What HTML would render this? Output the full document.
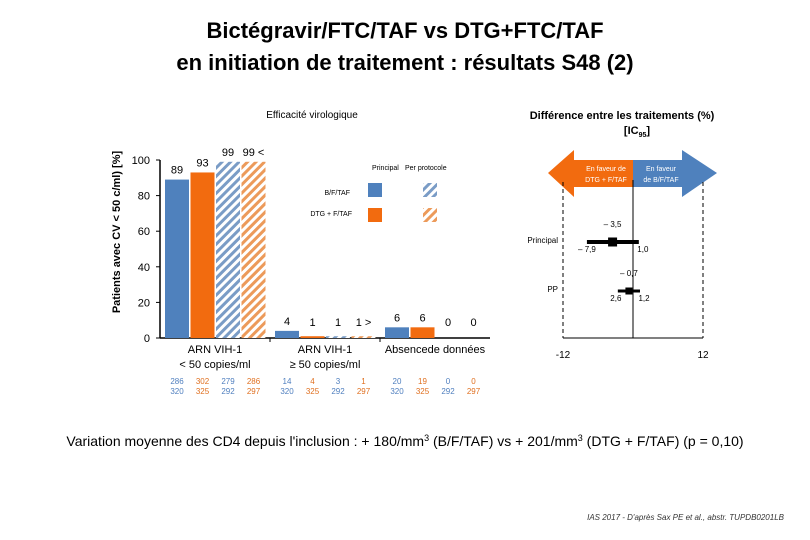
<!DOCTYPE html>
<html><head><meta charset="utf-8"><style>
body{margin:0;background:#fff;font-family:"Liberation Sans",sans-serif}
svg{display:block}
</style></head><body>
<svg id="c" width="810" height="540" xmlns="http://www.w3.org/2000/svg" font-family="Liberation Sans, sans-serif">
<defs>
<pattern id="hb" patternUnits="userSpaceOnUse" width="6" height="6" patternTransform="rotate(45)"><rect width="6" height="6" fill="#fff"/><rect width="3" height="6" fill="#7a9cc6"/></pattern>
<pattern id="ho" patternUnits="userSpaceOnUse" width="6" height="6" patternTransform="rotate(45)"><rect width="6" height="6" fill="#fff"/><rect width="3" height="6" fill="#ec9a5a"/></pattern>
</defs>
<text x="405" y="38" font-size="22" font-weight="bold" text-anchor="middle">Bictégravir/FTC/TAF vs DTG+FTC/TAF</text>
<text x="405" y="70" font-size="22" font-weight="bold" text-anchor="middle">en initiation de traitement : résultats S48 (2)</text>
<text x="312" y="118" font-size="10" text-anchor="middle">Efficacité virologique</text>
<text x="622" y="119" font-size="11" font-weight="bold" text-anchor="middle">Différence entre les traitements (%)</text>
<text x="637" y="134" font-size="11" font-weight="bold" text-anchor="middle">[IC<tspan font-size="7" dy="3">95</tspan><tspan dy="-3">]</tspan></text>
<text transform="translate(120,232) rotate(-90)" font-size="11" font-weight="bold" text-anchor="middle">Patients avec CV &lt; 50 c/ml) [%]</text>
<g id="bars"></g>
<g id="legend" font-size="7">
<text x="372" y="170">Principal</text>
<text x="405" y="170">Per protocole</text>
<text x="350" y="195" text-anchor="end">B/F/TAF</text>
<text x="352" y="216" text-anchor="end">DTG + F/TAF</text>
<rect x="368" y="183" width="14" height="14" fill="#4f81bd"/>
<rect x="423" y="183" width="14" height="14" fill="url(#hb)"/>
<rect x="368" y="208" width="14" height="14" fill="#f26b0f"/>
<rect x="423" y="208" width="14" height="14" fill="url(#ho)"/>
</g>
<g id="forest"></g>
<text x="405" y="446" font-size="14" text-anchor="middle">Variation moyenne des CD4 depuis l'inclusion : + 180/mm<tspan font-size="9" dy="-5">3</tspan><tspan dy="5"> (B/F/TAF) vs + 201/mm</tspan><tspan font-size="9" dy="-5">3</tspan><tspan dy="5"> (DTG + F/TAF) (p = 0,10)</tspan></text>
<text x="784" y="520" font-size="8" font-style="italic" text-anchor="end" fill="#333">IAS 2017 - D'après Sax PE et al., abstr. TUPDB0201LB</text>
</svg>
<script>
const groups=["ARN VIH-1|< 50 copies/ml","ARN VIH-1|≥ 50 copies/ml","Absencede données"];
const values=[[89,93,99,99],[4,1,1,1],[6,6,0,0]];
const valueLabels=[["89","93","99","99 <"],["4","1","1","1 >"],["6","6","0","0"]];
const countsTop=[["286","302","279","286"],["14","4","3","1"],["20","19","0","0"]];
const countsBot=[["320","325","292","297"],["320","325","292","297"],["320","325","292","297"]];
const yTicks=[0,20,40,60,80,100];
const forestLabels=["Principal","PP"];
const forestPoint=[-3.5,-0.7];
const forestLow=[-7.9,-2.6];
const forestHigh=[1.0,1.2];
const forestPointLbl=["– 3,5","– 0,7"];
const forestLowLbl=["– 7,9","2,6"];
const forestHighLbl=["1,0","1,2"];
const NS="http://www.w3.org/2000/svg";
function mk(p,t,a,txt){const e=document.createElementNS(NS,t);for(const k in a)e.setAttribute(k,a[k]);if(txt!=null)e.textContent=txt;p.appendChild(e);return e;}
const ysc=v=>338-v*1.78;
const gx=i=>160+i*110;
const fills=["#4f81bd","#f26b0f","url(#hb)","url(#ho)"];
const cntCol=["#4f7fbf","#e07020","#4f7fbf","#e07020"];
const B=document.getElementById('bars');
let a=mk(B,'line',{x1:160,y1:160,x2:160,y2:338,stroke:'#000','stroke-width':1.5});

a=mk(B,'line',{x1:160,y1:338,x2:490,y2:338,stroke:'#000','stroke-width':1.5});

yTicks.forEach(t=>{mk(B,'line',{x1:156,x2:160,y1:ysc(t),y2:ysc(t),stroke:'#000'});
 const l=mk(B,'text',{x:150,y:ysc(t)+4,'font-size':11,'text-anchor':'end'},String(t));
 });
groups.forEach((g,gi)=>{
 if(gi>0)mk(B,'line',{x1:gx(gi),x2:gx(gi),y1:338,y2:342,stroke:'#000'});
 const parts=g.split('|');
 parts.forEach((p,pi)=>{const t=mk(B,'text',{x:gx(gi)+55,y:353+pi*15,'font-size':11,'text-anchor':'middle'},p);
  });
 values[gi].forEach((v,bi)=>{
  const x=gx(gi)+5+bi*25.5;
  const r=mk(B,'rect',{x:x,y:ysc(v),width:24,height:338-ysc(v),fill:fills[bi]});
  
  const ly=Math.min(ysc(v)-6,326);
  const lt=mk(B,'text',{x:x+12,y:ly,'font-size':11,'text-anchor':'middle'},valueLabels[gi][bi]);
  
  const c1=mk(B,'text',{x:x+12,y:384,'font-size':8,'text-anchor':'middle',fill:cntCol[bi]},countsTop[gi][bi]);
  
  const c2=mk(B,'text',{x:x+12,y:394,'font-size':8,'text-anchor':'middle',fill:cntCol[bi]},countsBot[gi][bi]);
  
 });
});
const F=document.getElementById('forest');
const fx=v=>633+v*140/24;
let ar=mk(F,'polygon',{points:'548,173 574,150 574,160 633,160 633,187 574,187 574,197',fill:'#f26b0f'});

ar=mk(F,'polygon',{points:'633,160 682,160 682,150 717,173 682,197 682,187 633,187',fill:'#4f81bd'});

[["En faveur de",580,171],["DTG + F/TAF",580,182]].forEach(d=>mk(F,'text',{x:d[1]+26,y:d[2],'font-size':7,fill:'#fff','text-anchor':'middle'},d[0]));
[["En faveur",661,171],["de B/F/TAF",661,182]].forEach(d=>mk(F,'text',{x:d[1],y:d[2],'font-size':7,fill:'#fff','text-anchor':'middle'},d[0]));
[-12,12].forEach(v=>{const l=mk(F,'line',{x1:fx(v),x2:fx(v),y1:182,y2:338,stroke:'#000','stroke-dasharray':'4,3'});
 
 const t=mk(F,'text',{x:fx(v),y:358,'font-size':10,'text-anchor':'middle'},String(v));
 });
mk(F,'line',{x1:fx(-12),x2:fx(12),y1:338,y2:338,stroke:'#000'});
let z=mk(F,'line',{x1:fx(0),x2:fx(0),y1:180,y2:338,stroke:'#000'});

forestLabels.forEach((lb,i)=>{
 const y=242+i*49;
 const t=mk(F,'text',{x:558,y:y+1,'font-size':8,'text-anchor':'end'},lb);
 
 const ci=mk(F,'line',{x1:fx(forestLow[i]),x2:fx(forestHigh[i]),y1:y,y2:y,stroke:'#000','stroke-width':i==0?4:3});
 
 const s=i==0?9:7;
 const p=mk(F,'rect',{x:fx(forestPoint[i])-s/2,y:y-s/2,width:s,height:s,fill:'#000'});
 
 mk(F,'text',{x:fx(forestPoint[i]),y:y-15,'font-size':8,'text-anchor':'middle'},forestPointLbl[i]);
 mk(F,'text',{x:fx(forestLow[i])+(i==0?0:-2),y:y+10,'font-size':8,'text-anchor':'middle'},forestLowLbl[i]);
 mk(F,'text',{x:fx(forestHigh[i])+4,y:y+10,'font-size':8,'text-anchor':'middle'},forestHighLbl[i]);
});
</script>
</body></html>
